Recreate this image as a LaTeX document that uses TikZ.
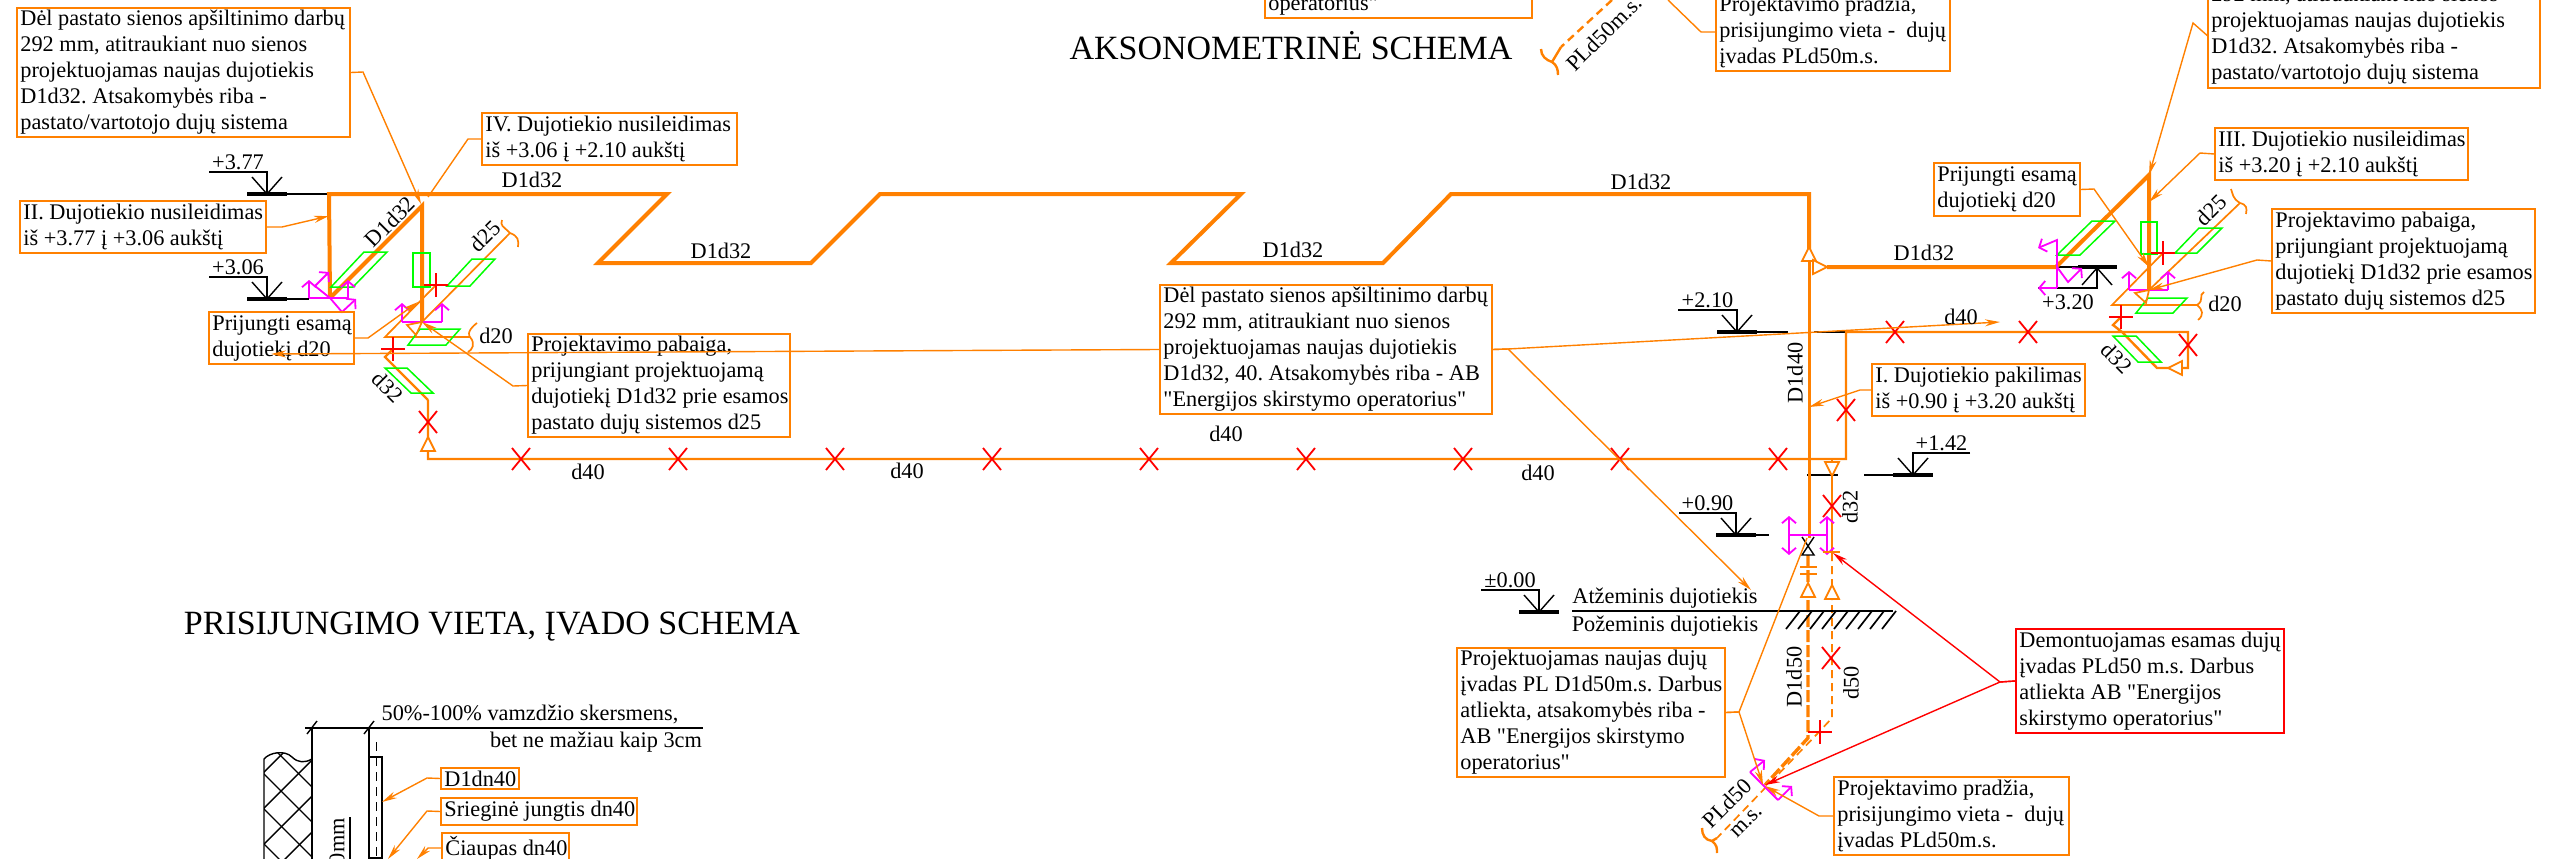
\documentclass[tikz,border=0pt]{standalone}
\usepackage{fontspec}
\setmainfont{Liberation Serif}
\usetikzlibrary{arrows.meta}
\definecolor{po}{RGB}{255,128,0}
\definecolor{pg}{RGB}{0,255,0}
\definecolor{pm}{RGB}{255,0,255}
\definecolor{pr}{RGB}{255,0,0}
\newcommand{\calloutbox}[7][lbl]{%
  \pgfmathsetmacro\cbw{#5-#3}\pgfmathsetmacro\cbh{#6-#4}%
  \pgfmathsetmacro\cbx{(#3+#5)/2}\pgfmathsetmacro\cby{(#4+#6)/2}%
  \node[#1,minimum width=\cbw pt,minimum height=\cbh pt] (#2) at (\cbx,\cby) {};
  \node[boxtext,anchor=west] (#2text) at (#2.west) {#7};}
\newcommand{\levelmark}[6]{% name,text,xc,ybase,xover,(thin end)
  \node[txt,anchor=south] (#1) at ({(#3+#5)/2},#4-24) {#2};
  \draw[blk] (#5,#4-22) -- (#3,#4-22) -- (#3,#4);
  \draw[blk] (#3-15,#4-17) -- (#3,#4) -- (#3+15,#4-17);
  \draw[blk,line width=3.4pt] (#3-20,#4) -- (#3+20,#4);
  \draw[blk] (#3,#4) -- (#6,#4);}
\newcommand{\redx}[2]{\draw[rx] (#1-9,#2-11) -- (#1+9,#2+11) (#1-9,#2+11) -- (#1+9,#2-11);}
\newcommand{\redplus}[2]{\draw[rx] (#1-12,#2) -- (#1+12,#2) (#1,#2-12) -- (#1,#2+12);}
\newcommand{\tri}[4]{\begin{scope}[shift={(#1,#2)},rotate=#3]\draw[pipe,fill=white,line width=#4] (0,0) -- (-7,14) -- (7,14) -- cycle;\end{scope}}
\tikzset{
  lbl/.style={draw=po,line width=1.6pt,inner sep=0pt},
  lblred/.style={lbl,draw=pr},
  boxtext/.style={font=\fontsize{22.3}{26}\selectfont\frenchspacing,align=left,inner xsep=4pt,inner ysep=0pt,text=black},
  txt/.style={font=\fontsize{22.3}{26}\selectfont,inner sep=0pt,text=black},
  heading/.style={font=\fontsize{34}{40}\selectfont,inner sep=0pt,text=black},
  thickpipe/.style={draw=po,line width=4pt,line join=miter},
  pipe/.style={draw=po,line width=2.4pt},
  thinpipe/.style={draw=po,line width=1.7pt},
  lead/.style={draw=po,line width=1.4pt,-{Stealth[length=15pt,width=7pt]}},
  leadred/.style={draw=pr,line width=1.4pt,-{Stealth[length=15pt,width=7pt]}},
  grn/.style={draw=pg,line width=1.5pt},
  mag/.style={draw=pm,line width=1.8pt},
  magarrow/.style={mag,-{Straight Barb[length=6pt,width=14pt]}},
  blk/.style={draw=black,line width=1.4pt},
  rx/.style={draw=pr,line width=1.8pt},
}
\begin{document}
\begin{tikzpicture}[x=1pt,y=-1pt]
\useasboundingbox (0,0) rectangle (2554,859);
\clip (0,0) rectangle (2554,859);
% coordinates of junctions
\coordinate (lt) at (329,194);
\coordinate (lb) at (330,298);
\coordinate (lv) at (422,206);
\coordinate (lv2) at (422,322);
\coordinate (rv) at (2149,175);
\coordinate (rv2) at (2149,290);
\coordinate (rj) at (2056,267);
\coordinate (ml) at (1809,194);
% headings
\node[heading] (h1) at (1291,46) {AKSONOMETRINĖ SCHEMA};
\node[heading] (h2) at (492,627) {PRISIJUNGIMO VIETA, ĮVADO SCHEMA};
% level marks
\levelmark{l377}{+3.77}{267}{194}{209}{329}
\levelmark{l306}{+3.06}{267}{299}{209}{309}
\levelmark{l210}{+2.10}{1737}{332}{1678}{1788}
\levelmark{l090}{+0.90}{1736}{535}{1679}{1769}
\levelmark{l000}{±0.00}{1539}{612}{1481}{1559}
\levelmark{l142}{+1.42}{1913}{475}{1970}{1864}
\draw[blk] (1814,332) -- (1846,332);
\draw[blk] (1807,475) -- (1838,475);
% +3.20 mark (below line)
\draw[blk] (2038,288) -- (2097,288) -- (2097,268);
\draw[blk] (2082,285) -- (2097,268) -- (2112,285);
\draw[blk,line width=3.4pt] (2078,267) -- (2117,267);
\draw[blk] (2056,267) -- (2078,267);
\node[txt] (l320) at (2068,302) {+3.20};
% main thick pipe
\draw[thickpipe] (lb) -- (lt) -- (667,194) -- (598,263) -- (811,263) -- (880,194) -- (1241,194) -- (1171,263) -- (1383,263) -- (1451,194) -- (ml) -- (1809,260);
\draw[thickpipe] (lb) -- (lv) -- (lv2);
\draw[thickpipe] (1827,267) -- (rj) -- (rv) -- (rv2);
% riser
\draw[pipe,line width=3pt] (1809,260) -- (1809,538);
\draw[pipe,line width=3.4pt,dash pattern=on 12pt off 3pt] (1808,555) -- (1808,738) -- (1765,785);
\draw[thinpipe,dash pattern=on 8pt off 5pt] (1832,553) -- (1832,718) -- (1818,733) -- (1717,838);
% d40 horizontal and d32 branches
\draw[pipe] (428,400) -- (428,459) -- (1846,459) -- (1846,332) -- (2188,332) -- (2188,368) -- (2157,368) -- (2122,332) -- (2113,325) -- (2121,317);
\draw[pipe] (428,400) -- (385,357) -- (393,349);
\draw[pipe] (1832,459) -- (1832,553);
% d20, d25 branches left
\draw[thinpipe] (510,233) -- (lv2);
\draw[thinpipe] (436,285) -- (385,337) -- (470,337);
\draw[thinpipe] (477,323) .. controls (465,332) and (470,337) .. (470,337) .. controls (476,344) and (472,350) .. (468,352);
\draw[thinpipe] (510,233) .. controls (503,226) and (500,226) .. (502,220) (510,233) .. controls (518,236) and (519,240) .. (518,247);
% d20, d25 branches right
\draw[thinpipe] (2240,203) -- (rv2);
\draw[thinpipe] (2163,253) -- (2112,305) -- (2197,305);
\draw[thinpipe] (2197,305) .. controls (2205,300) and (2198,295) .. (2204,292) (2197,305) .. controls (2203,310) and (2204,315) .. (2198,320);
\draw[thinpipe] (2240,203) .. controls (2232,198) and (2233,194) .. (2231,189) (2240,203) .. controls (2247,205) and (2247,208) .. (2246,214);
% break symbols at connection
\draw[pipe] (1717,838) -- (1712,841) .. controls (1717,845) and (1717,848) .. (1717,853) (1712,841) .. controls (1705,840) and (1702,835) .. (1702,828);
\draw[pipe,dash pattern=on 8pt off 5pt] (1612,0) -- (1561,47);
\draw[pipe] (1561,47) -- (1552,62) .. controls (1557,65) and (1558,70) .. (1558,75) (1552,62) .. controls (1546,60) and (1541,56) .. (1541,49);
% green parts left
\draw[grn] (331,287) -- (364,252) -- (387,252) -- (353,287) -- cycle;
\draw[grn] (413,253) rectangle (430,287);
\draw[grn] (447,286) -- (472,259) -- (495,259) -- (470,286) -- cycle;
\draw[grn] (408,345) -- (420,329) -- (460,329) -- (446,345) -- cycle;
\draw[grn] (385,368) -- (407,368) -- (433,393) -- (411,393) -- cycle;
% green parts right
\draw[grn] (2057,255) -- (2092,221) -- (2115,221) -- (2080,255) -- cycle;
\draw[grn] (2141,222) rectangle (2157,254);
\draw[grn] (2175,253) -- (2199,228) -- (2222,228) -- (2197,253) -- cycle;
\draw[grn] (2136,313) -- (2148,298) -- (2187,298) -- (2173,313) -- cycle;
\draw[grn] (2113,336) -- (2136,336) -- (2161,362) -- (2138,362) -- cycle;
% magenta left
\draw[magarrow] (309,298) -- (309,280);
\draw[mag] (309,298) -- (330,298);
\draw[magarrow] (330,298) -- (315,286) -- (329,272);
\draw[magarrow] (330,298) -- (342,312) -- (356,299);
\draw[magarrow] (348,298) -- (348,280);
\draw[mag] (330,298) -- (348,298);
\draw[mag] (402,322) -- (442,322);
\draw[magarrow] (402,322) -- (402,303);
\draw[magarrow] (442,322) -- (442,303);
% magenta right
\draw[magarrow] (2057,267) -- (2057,240) -- (2038,248);
\draw[magarrow] (2057,267) -- (2068,282) -- (2082,268);
\draw[magarrow] (2057,288) -- (2038,288);
\draw[mag] (2057,267) -- (2057,288);
\draw[mag] (2129,290) -- (2168,290);
\draw[magarrow] (2129,290) -- (2129,271);
\draw[magarrow] (2168,290) -- (2168,271);
% magenta riser
\draw[mag,line width=2.6pt] (1788,535) -- (1828,535);
\draw[mag,{Straight Barb[length=6pt,width=14pt]}-{Straight Barb[length=6pt,width=14pt]}] (1789,516) -- (1789,555);
\draw[mag,{Straight Barb[length=6pt,width=14pt]}-{Straight Barb[length=6pt,width=14pt]}] (1827,516) -- (1827,555);
% magenta lower
\draw[mag] (1750,772) -- (1778,800);
\draw[magarrow] (1750,772) -- (1765,760);
\draw[magarrow] (1778,800) -- (1792,786);
% valve
\draw[blk] (1802,537) -- (1814,555) -- (1802,555) -- (1814,537);
\draw[thinpipe] (1800,567) -- (1817,567) (1800,574) -- (1817,574) (1823,552) -- (1840,552);
% open triangles
\tri{1809}{247}{0}{1.8pt}
\tri{1827}{267}{-90}{1.8pt}
\tri{428}{437}{0}{1.8pt}
\tri{2168}{368}{90}{1.8pt}
\tri{1832}{476}{180}{1.8pt}
\tri{1808}{583}{0}{1.8pt}
\tri{1832}{585}{0}{1.8pt}
\draw[thinpipe] (407,325) -- (422,322) -- (416,335) -- cycle;
\draw[thinpipe] (2135,293) -- (2149,290) -- (2146,303) -- cycle;
% red marks
\foreach \rxpos in {521,678,835,992,1149,1306,1463,1620,1778} {\redx{\rxpos}{459}}
\redx{428}{422}
\redx{1895}{332}
\redx{2028}{332}
\redx{2188}{345}
\redx{1846}{410}
\redx{1832}{506}
\redx{1831}{658}
\redplus{436}{285}
\redplus{393}{349}
\redplus{2163}{253}
\redplus{2121}{317}
\redplus{1820}{732}
% ground
\draw[blk] (1572,611) -- (1893,611);
\foreach \hx in {1800,1812,...,1896} {\draw[blk,line width=1.7pt] (\hx,611) -- (\hx-14,629);}
\node[txt] (atz) at (1665,598) {Atžeminis dujotiekis};
\node[txt] (poz) at (1665,626) {Požeminis dujotiekis};
% label boxes
\calloutbox{boxA}{17}{8}{350}{137}{Dėl pastato sienos apšiltinimo darbų\\292 mm, atitraukiant nuo sienos\\projektuojamas naujas dujotiekis\\D1d32. Atsakomybės riba -\\pastato/vartotojo dujų sistema}
\calloutbox{boxIV}{482}{113}{737}{165}{IV. Dujotiekio nusileidimas\\iš +3.06 į +2.10 aukštį}
\calloutbox{boxII}{20}{201}{266}{253}{II. Dujotiekio nusileidimas\\iš +3.77 į +3.06 aukštį}
\calloutbox{boxPL}{209}{312}{354}{364}{Prijungti esamą\\dujotiekį d20}
\calloutbox{boxPP}{528}{334}{790}{437}{Projektavimo pabaiga,\\prijungiant projektuojamą\\dujotiekį D1d32 prie esamos\\pastato dujų sistemos d25}
\calloutbox{boxC}{1160}{285}{1492}{414}{Dėl pastato sienos apšiltinimo darbų\\292 mm, atitraukiant nuo sienos\\projektuojamas naujas dujotiekis\\D1d32, 40. Atsakomybės riba - AB\\\textquotedbl{}Energijos skirstymo operatorius\textquotedbl}
\calloutbox{boxT}{1265}{-8}{1532}{18}{operatorius\textquotedbl}
\calloutbox{boxTP}{1716}{-7}{1950}{71}{Projektavimo pradžia,\\prisijungimo vieta -\ \ dujų\\įvadas PLd50m.s.}
\calloutbox{boxA2}{2208}{-17}{2540}{88}{292 mm, atitraukiant nuo sienos\\projektuojamas naujas dujotiekis\\D1d32. Atsakomybės riba -\\pastato/vartotojo dujų sistema}
\calloutbox{boxIII}{2215}{128}{2468}{180}{III. Dujotiekio nusileidimas\\iš +3.20 į +2.10 aukštį}
\calloutbox{boxPR}{1934}{163}{2080}{216}{Prijungti esamą\\dujotiekį d20}
\calloutbox{boxPP2}{2272}{209}{2535}{313}{Projektavimo pabaiga,\\prijungiant projektuojamą\\dujotiekį D1d32 prie esamos\\pastato dujų sistemos d25}
\calloutbox{boxI}{1872}{364}{2085}{416}{I. Dujotiekio pakilimas\\iš +0.90 į +3.20 aukštį}
\calloutbox{boxN}{1457}{648}{1725}{777}{Projektuojamas naujas dujų\\įvadas PL D1d50m.s. Darbus\\atliekta, atsakomybės riba -\\AB \textquotedbl{}Energijos skirstymo\\operatorius\textquotedbl}
\calloutbox[lblred]{boxD}{2016}{629}{2284}{733}{Demontuojamas esamas dujų\\įvadas PLd50 m.s. Darbus\\atliekta AB \textquotedbl{}Energijos\\skirstymo operatorius\textquotedbl}
\calloutbox{boxP}{1834}{777}{2069}{855}{Projektavimo pradžia,\\prisijungimo vieta -\ \ dujų\\įvadas PLd50m.s.}
% leaders
\coordinate (pA) at (421,204);
\draw[lead] (boxA.east) -- (363,72) -- (pA);
\draw[draw=po,line width=1.4pt] (boxIV.west) -- (468,139) -- (428,197);
\draw[lead] (boxII.east) -- (282,227) -- (lt |- 0,216);
\draw[lead] (boxPL.east) -- (368,338) -- (418,302);
\draw[lead] (boxPP.west) -- (513,386) -- (lv2);
\draw[lead] (boxC.west) -- (271,354);
\draw[lead] (boxC.east) -- (1508,349) -- (2000,322);
\draw[lead] (boxC.east) -- (1508,349) -- (1751,590);
\draw[lead] (boxA2.west) -- (2193,23) -- (rv);
\draw[lead] (boxIII.west) -- (2200,153) -- (2149,202);
\draw[lead] (boxPR.east) -- (2094,189) -- (2149,267);
\draw[lead] (boxPP2.west) -- (2257,260) -- (rv2);
\draw[lead] (boxI.west) -- (1860,390) -- (1809,407);
\draw[draw=po,line width=1.4pt] (boxTP.west) -- (1701,32) -- (1668,0);
\draw[draw=po,line width=1.4pt] (boxN.east) -- (1739,712) -- (1807,538);
\draw[lead] (boxN.east) -- (1739,712) -- (1763,785);
\draw[lead] (boxP.west) -- (1819,816) -- (1765,786);
\draw[leadred] (boxD.west) -- (2000,682) -- (1833,553);
\draw[leadred] (boxD.west) -- (2000,682) -- (1765,785);
% pipe labels
\node[txt] (t1) at (532,180) {D1d32};
\node[txt] (t2) at (721,251) {D1d32};
\node[txt] (t3) at (1293,250) {D1d32};
\node[txt] (t4) at (1641,182) {D1d32};
\node[txt] (t5) at (1924,253) {D1d32};
\node[txt,rotate=45] (t6) at (390,222) {D1d32};
\node[txt,rotate=90] (t7) at (1795,373) {D1d40};
\node[txt,rotate=90] (t8) at (1794,677) {D1d50};
\node[txt,rotate=90] (t9) at (1851,683) {d50};
\node[txt,rotate=90] (t10) at (1850,507) {d32};
\node[txt,rotate=45] (t11) at (485,236) {d25};
\node[txt,rotate=45] (t12) at (2211,210) {d25};
\node[txt] (t13) at (496,336) {d20};
\node[txt] (t14) at (2225,304) {d20};
\node[txt,rotate=-45] (t15) at (388,387) {d32};
\node[txt,rotate=-45] (t16) at (2117,358) {d32};
\node[txt] (t17) at (588,472) {d40};
\node[txt] (t18) at (907,471) {d40};
\node[txt] (t19) at (1226,434) {d40};
\node[txt] (t20) at (1538,473) {d40};
\node[txt] (t21) at (1961,317) {d40};
\node[txt,rotate=45] (t22) at (1727,803) {PLd50};
\node[txt,rotate=45] (t23) at (1747,822) {m.s.};
\node[txt,rotate=45] (t24) at (1604,33) {PLd50m.s.};
% lower-left detail
\begin{scope}
\clip (264,759) .. controls (270,752) and (285,750) .. (292,757) .. controls (298,763) and (305,763) .. (312,759) -- (312,870) -- (264,870) -- cycle;
\foreach \dk in {405,440,...,650} {\draw[blk] (240,\dk+240) -- (340,\dk+340);}
\foreach \sk in {1000,1036,...,1250} {\draw[blk] (240,\sk-240) -- (340,\sk-340);}
\end{scope}
\draw[blk] (264,859) -- (264,759) .. controls (270,752) and (285,750) .. (292,757) .. controls (298,763) and (305,763) .. (312,759);
\draw[blk] (305,728) -- (703,728);
\draw[blk] (312,728) -- (312,859);
\draw[blk] (369,728) -- (369,757);
\draw[blk] (307,734) -- (317,721);
\draw[blk] (364,734) -- (374,721);
\draw[blk,line width=2.2pt] (369,859) -- (369,757) -- (382,757) -- (382,859);
\draw[blk,line width=2.2pt] (369,858) -- (382,858);
\draw[blk,line width=0.9pt,dash pattern=on 9pt off 6pt] (376,742) -- (376,858);
\draw[blk] (350,817) -- (350,859);
\node[txt,rotate=90,anchor=east] (mm) at (337,818) {0mm};
\node[txt] (d1) at (530,714) {50\%-100\% vamzdžio skersmens,};
\node[txt] (d2) at (596,742) {bet ne mažiau kaip 3cm};
\calloutbox{boxD1}{441}{768}{519}{789}{D1dn40}
\calloutbox{boxSJ}{441}{798}{637}{825}{Srieginė jungtis dn40}
\calloutbox{boxCP}{442}{833}{569}{863}{Čiaupas dn40}
\draw[lead] (boxD1.west) -- (427,778) -- (382,802);
\draw[lead] (boxSJ.west) -- (427,811) -- (388,859);
\draw[lead] (boxCP.west) -- (428,848) -- (417,859);
\end{tikzpicture}
\end{document}
